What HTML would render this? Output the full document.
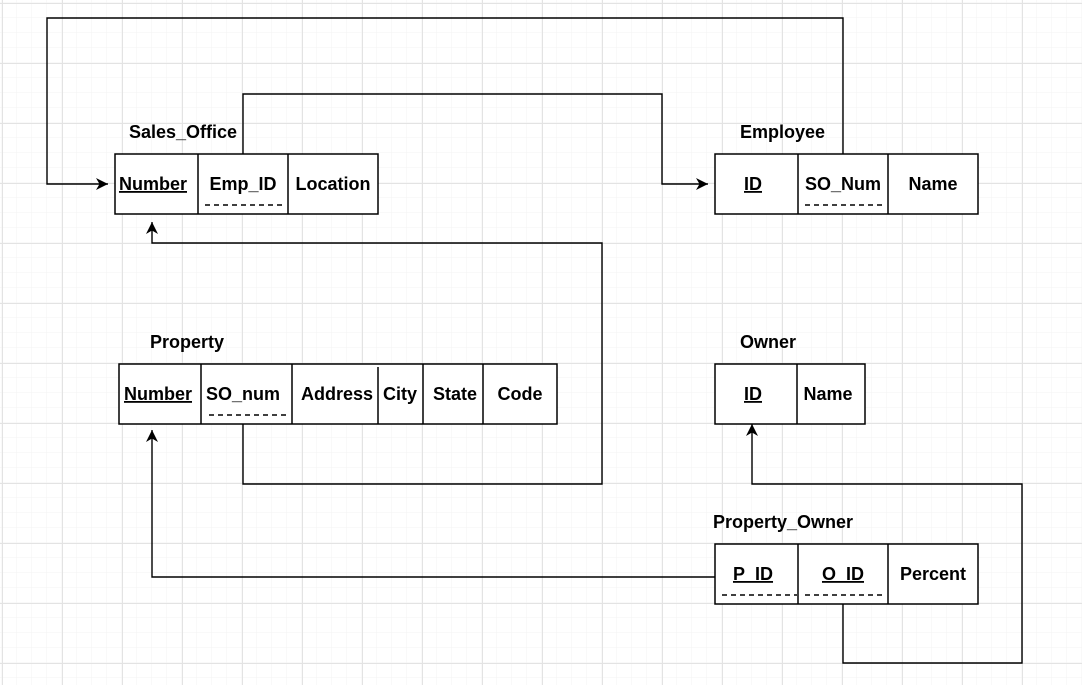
<!DOCTYPE html>
<html><head><style>
html,body{margin:0;padding:0;background:#fff;}
svg{display:block;}
text{font-family:"Liberation Sans",Arial,sans-serif;font-weight:bold;font-size:18px;fill:#000;}
</style></head><body>
<svg width="1082" height="685" xmlns="http://www.w3.org/2000/svg">
<defs>
<pattern id="minor" x="2" y="3" width="15" height="15" patternUnits="userSpaceOnUse">
<path d="M15 0V15M0 15H15" fill="none" stroke="#f3f3f3" stroke-width="1"/>
</pattern>
<pattern id="major" x="2" y="3" width="60" height="60" patternUnits="userSpaceOnUse">
<path d="M0.5 0V60M0 0.5H60" fill="none" stroke="#e3e3e3" stroke-width="1"/>
</pattern>
<marker id="ar" markerWidth="14" markerHeight="14" refX="12" refY="6" orient="auto" markerUnits="userSpaceOnUse">
<path d="M0 0L12 6L0 12L3.5 6Z" fill="#000"/>
</marker>
</defs>
<rect width="1082" height="685" fill="url(#minor)"/>
<rect width="1082" height="685" fill="url(#major)"/>

<g fill="none" stroke="#000" stroke-width="1.4">
<path d="M843 154V18H47V184H108" marker-end="url(#ar)"/>
<path d="M243 154V94H662V184H708" marker-end="url(#ar)"/>
<path d="M243 424V484H602V243H152V222" marker-end="url(#ar)"/>
<path d="M715 577H152V430" marker-end="url(#ar)"/>
<path d="M843 604V663H1022V484H752V424" marker-end="url(#ar)"/>
</g>

<g fill="#fff" stroke="#000" stroke-width="1.5">
<rect x="115" y="154" width="263" height="60"/>
<rect x="715" y="154" width="263" height="60"/>
<rect x="119" y="364" width="438" height="60"/>
<rect x="715" y="364" width="150" height="60"/>
<rect x="715" y="544" width="263" height="60"/>
</g>
<g stroke="#000" stroke-width="1.5">
<path d="M198 154V214M288 154V214"/>
<path d="M798 154V214M888 154V214"/>
<path d="M201 364V424M292 364V424M378 367V424M423 364V424M483 364V424"/>
<path d="M797 364V424"/>
<path d="M798 544V604M888 544V604"/>
</g>
<g stroke="#000" stroke-width="1.4" stroke-dasharray="5,4">
<path d="M205 205H282"/>
<path d="M805 205H882"/>
<path d="M209 415H286"/>
<path d="M722 595H797"/>
<path d="M805 595H882"/>
</g>

<text x="129" y="138">Sales_Office</text>
<text x="740" y="138">Employee</text>
<text x="150" y="348">Property</text>
<text x="740" y="348">Owner</text>
<text x="713" y="528">Property_Owner</text>

<g text-anchor="middle">
<text x="153" y="190" text-decoration="underline">Number</text>
<text x="243" y="190">Emp_ID</text>
<text x="333" y="190">Location</text>
<text x="753" y="190" text-decoration="underline">ID</text>
<text x="843" y="190">SO_Num</text>
<text x="933" y="190">Name</text>
<text x="158" y="400" text-decoration="underline">Number</text>
<text x="243" y="400">SO_num</text>
<text x="337" y="400">Address</text>
<text x="400" y="400">City</text>
<text x="455" y="400">State</text>
<text x="520" y="400">Code</text>
<text x="753" y="400" text-decoration="underline">ID</text>
<text x="828" y="400">Name</text>
<text x="753" y="580" text-decoration="underline">P_ID</text>
<text x="843" y="580" text-decoration="underline">O_ID</text>
<text x="933" y="580">Percent</text>
</g>
</svg>
</body></html>
